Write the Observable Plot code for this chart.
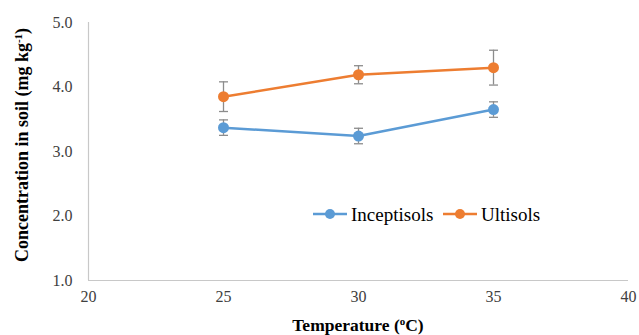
<!DOCTYPE html>
<html>
<head>
<meta charset="utf-8">
<script src="https://cdn.jsdelivr.net/npm/d3@7"></script>
<script src="https://cdn.jsdelivr.net/npm/@observablehq/plot@0.6"></script>
<style>
  body { margin: 0; background: #fff; }
  #chart { position: relative; width: 639px; height: 335px; }
  #chart svg, #chart svg text, #chart svg tspan { font-family: "Liberation Serif", serif !important; }
</style>
</head>
<body>
<div id="chart"></div>
<script>
const temps = [25, 30, 35];
const seriesNames = ["Inceptisols", "Ultisols"];
const inceptisols = [3.37, 3.24, 3.65];
const inceptisolsErr = [0.12, 0.12, 0.12];
const ultisols = [3.85, 4.19, 4.30];
const ultisolsErr = [0.23, 0.14, 0.27];
const xTicks = [20, 25, 30, 35, 40];
const yTicks = [1, 2, 3, 4, 5];
const colors = ["#5b9bd5", "#ed7d31"];

const rows = [];
[[inceptisols, inceptisolsErr], [ultisols, ultisolsErr]].forEach(([vals, errs], s) => {
  temps.forEach((t, i) => rows.push({series: seriesNames[s], temp: t, value: vals[i], lo: vals[i] - errs[i], hi: vals[i] + errs[i]}));
});

const cap = {
  draw(ctx, size) {
    const r = Math.sqrt(size / Math.PI);
    ctx.moveTo(-r, 0);
    ctx.lineTo(r, 0);
  }
};

const plot = Plot.plot({
  width: 639,
  height: 335,
  marginLeft: 88,
  marginRight: 11,
  marginTop: 22,
  marginBottom: 55,
  style: {background: "#fff"},
  x: {domain: [20, 40], label: null},
  y: {domain: [1, 5], label: null},
  color: {domain: seriesNames, range: colors},
  marks: [
    Plot.axisX({ticks: xTicks, tickSize: 0, tickPadding: 10, fontSize: 16, fill: "#404040", label: null}),
    Plot.axisY({ticks: yTicks, tickSize: 0, tickPadding: 16, fontSize: 16, fill: "#404040", tickFormat: d3.format(".1f"), label: null}),
    Plot.ruleY([1], {stroke: "#c8c8c8", strokeWidth: 1.2}),
    Plot.ruleX([20], {stroke: "#c8c8c8", strokeWidth: 1.2}),
    Plot.ruleX(rows, {x: "temp", y1: "lo", y2: "hi", stroke: "#8c8c8c", strokeWidth: 1.3}),
    Plot.dot(rows, {x: "temp", y: "lo", symbol: cap, r: 4.5, stroke: "#8c8c8c", strokeWidth: 1.3}),
    Plot.dot(rows, {x: "temp", y: "hi", symbol: cap, r: 4.5, stroke: "#8c8c8c", strokeWidth: 1.3}),
    Plot.line(rows, {x: "temp", y: "value", z: "series", stroke: "series", strokeWidth: 2.5}),
    Plot.dot(rows, {x: "temp", y: "value", fill: "series", r: 5.5})
  ]
});

const svg = d3.select(plot);
// y-axis title
const yt = svg.append("text")
  .attr("transform", "translate(28,145) rotate(-90)")
  .attr("text-anchor", "middle")
  .attr("font-weight", "bold").attr("font-size", 18).attr("fill", "#000");
yt.append("tspan").text("Concentration in soil (mg kg");
yt.append("tspan").attr("baseline-shift", "super").attr("font-size", 11).text("-1");
yt.append("tspan").text(")");
// x-axis title
const xt = svg.append("text")
  .attr("x", 358).attr("y", 331)
  .attr("text-anchor", "middle")
  .attr("font-weight", "bold").attr("font-size", 17.5).attr("fill", "#000");
xt.append("tspan").text("Temperature (");
xt.append("tspan").attr("baseline-shift", "super").attr("font-size", 11).text("o");
xt.append("tspan").text("C)");
// legend
const lg = svg.append("g").attr("font-size", 19).attr("fill", "#000").attr("text-anchor", "start");
const legendX = [313, 443];
seriesNames.forEach((name, i) => {
  const g = lg.append("g").attr("transform", `translate(${legendX[i]},214)`);
  g.append("line").attr("x1", 0).attr("x2", 34).attr("stroke", colors[i]).attr("stroke-width", 2.5);
  g.append("circle").attr("cx", 17).attr("r", 5).attr("fill", colors[i]);
  g.append("text").attr("x", 38).attr("dy", "0.35em").attr("text-anchor", "start").text(name);
});

document.getElementById("chart").appendChild(plot);
</script>
</body>
</html>
